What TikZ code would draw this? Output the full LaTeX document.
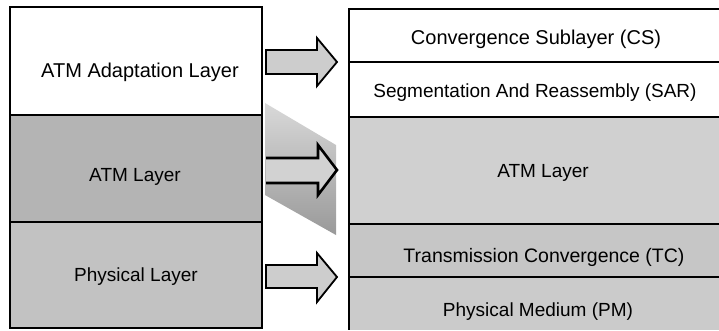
\documentclass[tikz,border=0pt]{standalone}
\usepackage{fontspec}
\setmainfont{Liberation Sans}
\definecolor{lmid}{HTML}{B4B4B4}
\definecolor{lbot}{HTML}{C2C2C2}
\definecolor{ratm}{HTML}{D0D0D0}
\definecolor{rtc}{HTML}{C6C6C6}
\definecolor{rpm}{HTML}{CBCBCB}
\definecolor{arrfill}{HTML}{CDCDCD}
\begin{document}
\begin{tikzpicture}[x=1pt,y=-1pt,
  lbl/.style={font=\fontsize{19}{21}\selectfont, inner sep=0pt, anchor=base},
  big/.style={font=\fontsize{20}{22}\selectfont},
  sep/.style={line width=1.5pt},
  blockarrow/.style={draw=black, line width=1.8pt, fill=arrfill, line join=miter}]
\useasboundingbox (0,0) rectangle (719,330);
% left stack
\fill[white] (10,7) rectangle (262,115);
\fill[lmid] (10,115) rectangle (262,222);
\fill[lbot] (10,222) rectangle (262,328);
\draw[sep] (10,7) rectangle (262,328);
\draw[sep] (10,115) -- (262,115);
\draw[sep] (10,222) -- (262,222);
% right stack
\fill[white] (349,9) rectangle (719,117);
\fill[ratm] (349,117) rectangle (719,224);
\fill[rtc] (349,224) rectangle (719,277);
\fill[rpm] (349,277) rectangle (719,330);
\draw[sep] (719,9) -- (349,9) -- (349,330);
\draw[sep] (349,62) -- (719,62);
\draw[sep] (349,117) -- (719,117);
\draw[sep] (349,224) -- (719,224);
\draw[sep] (349,277) -- (719,277);
% labels
\node[lbl, big] (aal) at (140,77) {ATM Adaptation Layer};
\node[lbl] (atm) at (135,181) {ATM Layer};
\node[lbl] (phy) at (136,281) {Physical Layer};
\node[lbl, big] (cs)  at (536,44) {Convergence Sublayer (CS)};
\node[lbl] (sar) at (535,97) {Segmentation And Reassembly (SAR)};
\node[lbl] (ratmn) at (543,177) {ATM Layer};
\node[lbl, font=\fontsize{19.5}{21}\selectfont] (tc)  at (544,262) {Transmission Convergence (TC)};
\node[lbl] (pm)  at (538,316) {Physical Medium (PM)};
% shadow behind middle arrow
\shade[top color=gray!30, bottom color=gray!80] (265,103) -- (336,145) -- (336,235) -- (265,195) -- cycle;
% block arrows
\draw[blockarrow] (266,50) -- (317,50) -- (317,38) -- (337,62) -- (317,86) -- (317,74) -- (266,74) -- cycle;
\draw[blockarrow, line width=2.6pt, fill=gray!35] (266,158) -- (318,158) -- (318,145) -- (337,170) -- (318,195) -- (318,183) -- (266,183);
\draw[blockarrow] (266,265) -- (317,265) -- (317,253) -- (337,277) -- (317,302) -- (317,288) -- (266,288) -- cycle;
\end{tikzpicture}
\end{document}
